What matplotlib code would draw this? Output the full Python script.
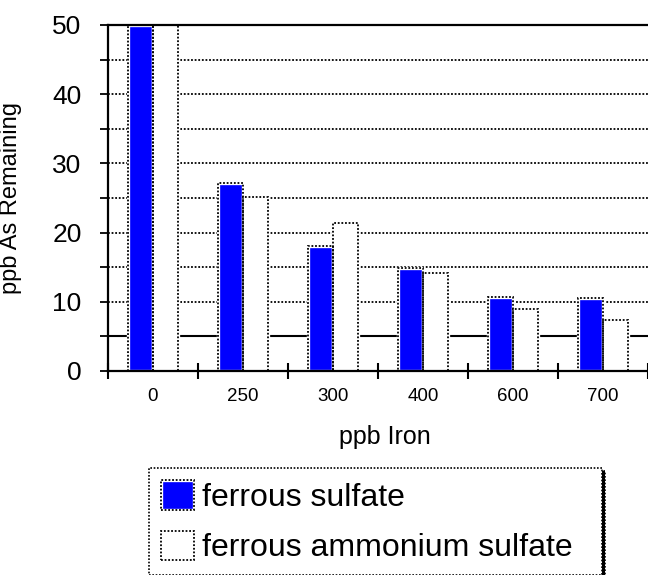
import numpy as np
import matplotlib
matplotlib.use("Agg")
import matplotlib.pyplot as plt
from matplotlib.ticker import FixedLocator, MultipleLocator
from matplotlib.legend_handler import HandlerTuple

plt.rcParams['font.family'] = ['Liberation Sans', 'DejaVu Sans']

# Iron dose (ppb) and arsenic left in solution (ppb)
iron_doses = ["0", "250", "300", "400", "600", "700"]
ferrous_sulfate = [50.0, 27.2, 18.0, 14.9, 10.7, 10.5]
ferrous_ammonium_sulfate = [50.0, 25.2, 21.4, 14.2, 9.0, 7.3]
series_names = ["ferrous sulfate", "ferrous ammonium sulfate"]

fig = plt.figure(figsize=(6.48, 5.75), dpi=100)
ax = fig.add_axes([108 / 648, 204 / 575, 540 / 648, 346 / 575])

x = np.arange(len(iron_doses))
w = 0.278
dotted = (0, (1, 1))

# horizontal reference lines every 5 ppb
for level in np.arange(5, 50, 5):
    if level == 5:
        ax.axhline(level, color="black", lw=1.5, zorder=1)
    else:
        ax.axhline(level, color="black", lw=1.3, ls=dotted, zorder=1)

# filled bars with a thin white rim, then a dotted black outline on top
fill1 = ax.bar(x - w / 2, ferrous_sulfate, w, facecolor="#0000ff",
               edgecolor="white", linewidth=2.4, zorder=3)
edge1 = ax.bar(x - w / 2, ferrous_sulfate, w, fill=False,
               edgecolor="black", linewidth=1.3, linestyle=dotted, zorder=4)
fill2 = ax.bar(x + w / 2, ferrous_ammonium_sulfate, w, facecolor="white",
               edgecolor="white", linewidth=2.4, zorder=3)
edge2 = ax.bar(x + w / 2, ferrous_ammonium_sulfate, w, fill=False,
               edgecolor="black", linewidth=1.3, linestyle=dotted, zorder=4)

ax.set_xlim(-0.5, len(iron_doses) - 0.5)
ax.set_ylim(0, 50)

for side in ("left", "bottom", "top"):
    ax.spines[side].set_linewidth(1.6)
    ax.spines[side].set_zorder(5)
ax.spines["right"].set_visible(False)

ax.set_xticks(x)
ax.set_xticklabels(iron_doses, fontsize=13.5)
ax.xaxis.set_minor_locator(FixedLocator(np.arange(-0.5, len(iron_doses) + 0.5, 1.0)))
ax.tick_params(axis="x", which="major", length=0, pad=12)
ax.tick_params(axis="x", which="minor", direction="inout", length=11, width=1.5)

ax.yaxis.set_major_locator(MultipleLocator(10))
ax.yaxis.set_minor_locator(MultipleLocator(5))
ax.tick_params(axis="y", which="both", direction="out", length=6, width=1.3,
               labelsize=19, pad=13)

ax.set_xlabel("ppb Iron", fontsize=18)
ax.xaxis.set_label_coords(0.513, -0.155)
ax.set_ylabel("ppb As Remaining", fontsize=17)
ax.yaxis.set_label_coords(-0.16, 0.5)

leg = fig.legend(handles=[(fill1[0], edge1[0]), (fill2[0], edge2[0])],
                 labels=series_names,
                 handler_map={tuple: HandlerTuple(ndivide=1, pad=0)},
                 loc="upper left", bbox_to_anchor=(149 / 648, 106 / 575, 453 / 648, 0.001),
                 mode="expand", borderaxespad=0, fontsize=23,
                 handlelength=1.05, handleheight=1.05, handletextpad=0.25,
                 borderpad=0.36, labelspacing=0.56, fancybox=False,
                 shadow={"color": "black", "alpha": 1, "ox": 2, "oy": -2})
frame = leg.get_frame()
frame.set_edgecolor("black")
frame.set_linestyle(dotted)
frame.set_linewidth(1.2)

fig.savefig("out.png", dpi=100)
